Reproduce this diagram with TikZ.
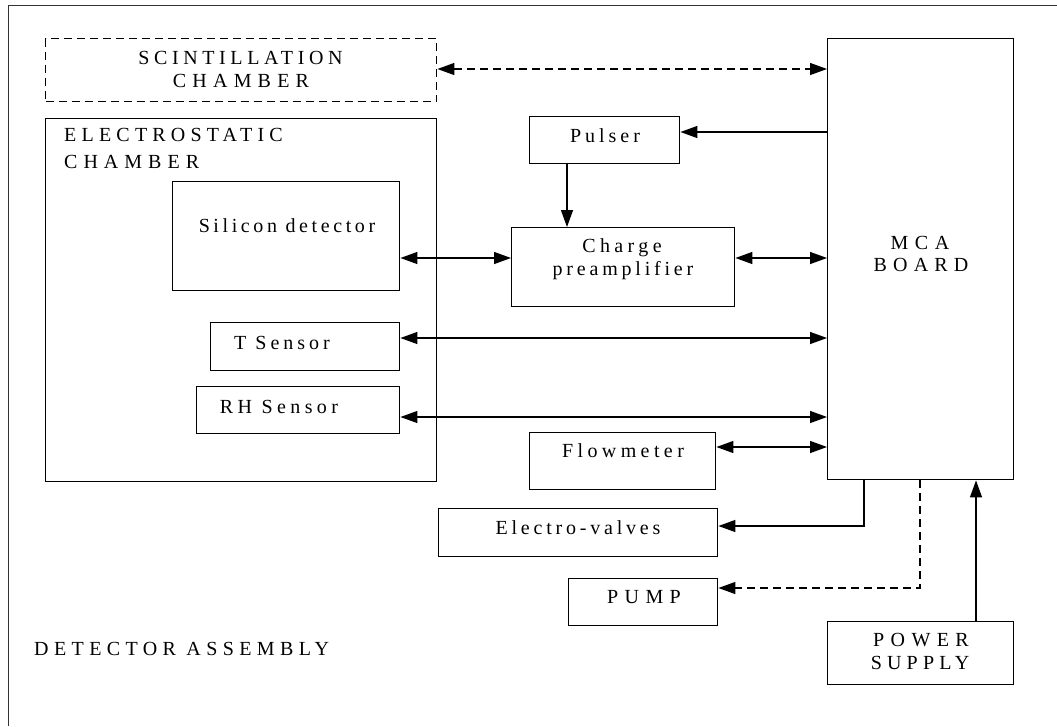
\documentclass[tikz,border=0pt]{standalone}
\usepackage{fontspec}
\setmainfont{Liberation Serif}
\usetikzlibrary{arrows.meta}
\newcommand{\lsp}[2]{{\addfontfeature{LetterSpace=#1}#2}}
\begin{document}
\begin{tikzpicture}[x=1pt,y=-1pt,
  box/.style={draw, line width=1.4pt, inner sep=0pt, anchor=north west},
  txt/.style={inner sep=0pt, font=\fontsize{20}{24}\selectfont, anchor=base},
  ltxt/.style={inner sep=0pt, font=\fontsize{20}{24}\selectfont, anchor=base west},
  con/.style={line width=1.3pt},
  dsh/.style={dash pattern=on 8pt off 5pt},
  tip/.style={-{Triangle[length=17pt,width=12pt]}},
  dtip/.style={{Triangle[length=17pt,width=12pt]}-{Triangle[length=17pt,width=12pt]}}
]
\useasboundingbox (0,0) rectangle (1057,726);
\draw[line width=1.3pt, black!80] (8.5,726) -- (8.5,5.5) -- (1057,5.5);

% boxes
\node[box, dsh, minimum width=391pt, minimum height=63pt] (scint) at (45,38) {};
\node[box, minimum width=391pt, minimum height=363pt] (elec) at (45,118) {};
\node[box, minimum width=227pt, minimum height=109pt] (silicon) at (172,181) {};
\node[box, minimum width=189pt, minimum height=48pt] (tsens) at (210,322) {};
\node[box, minimum width=203pt, minimum height=47pt] (rhsens) at (196,386) {};
\node[box, minimum width=150pt, minimum height=47pt] (pulser) at (529,116) {};
\node[box, minimum width=223pt, minimum height=79pt] (charge) at (511,227) {};
\node[box, minimum width=186pt, minimum height=441pt] (mca) at (827,38) {};
\node[box, minimum width=186pt, minimum height=57pt] (flow) at (529,432) {};
\node[box, minimum width=279pt, minimum height=48pt] (valves) at (438,508) {};
\node[box, minimum width=149pt, minimum height=47pt] (pump) at (568,578) {};
\node[box, minimum width=186pt, minimum height=63pt] (power) at (827,621) {};

% texts
\node[txt] (t1) at (240.5,64) {\lsp{23}{SCINTILLATION}};
\node[txt] (t2) at (241,87) {\lsp{31}{CHAMBER}};
\node[ltxt] (t3) at (64,141) {\lsp{26}{ELECTROSTATIC}};
\node[ltxt] (t4) at (64,168) {\lsp{30}{CHAMBER}};
\node[txt] (t5) at (287,232) {\lsp{18}{Silicon detector}};
\node[txt] (t6) at (282,349) {\lsp{20}{T Sensor}};
\node[txt] (t7) at (279,413) {\lsp{22}{RH Sensor}};
\node[txt] (t8) at (605,142) {\lsp{20}{Pulser}};
\node[txt] (t9) at (622,252) {\lsp{22}{Charge}};
\node[txt] (t10) at (623,275) {\lsp{19}{preamplifier}};
\node[txt] (t11) at (920,249) {\lsp{33}{MCA}};
\node[txt] (t12) at (921,271) {\lsp{31}{BOARD}};
\node[txt] (t13) at (623,457) {\lsp{22}{Flowmeter}};
\node[txt] (t14) at (578,534) {\lsp{19}{Electro-valves}};
\node[txt] (t15) at (644,603) {\lsp{32}{PUMP}};
\node[txt] (t16) at (921,646) {\lsp{32}{POWER}};
\node[txt] (t17) at (920,669) {\lsp{26}{SUPPLY}};
\node[ltxt] (t18) at (34,655) {\lsp{27}{DETECTOR ASSEMBLY}};

% connectors
\draw[con, dsh, dtip] (scint.east |- 0,69) -- (mca.west |- 0,69);
\draw[con, tip] (mca.west |- 0,132) -- (pulser.east |- 0,132);
\draw[con, tip] (pulser.south -| 567,0) -- (charge.north -| 567,0);
\draw[con, dtip] (silicon.east |- 0,258) -- (charge.west |- 0,258);
\draw[con, dtip] (charge.east |- 0,258) -- (mca.west |- 0,258);
\draw[con, dtip] (tsens.east |- 0,338) -- (mca.west |- 0,338);
\draw[con, dtip] (rhsens.east |- 0,417) -- (mca.west |- 0,417);
\draw[con, dtip] (flow.east |- 0,447) -- (mca.west |- 0,447);
\draw[con, tip] (mca.south -| 864,0) |- (valves.east |- 0,526);
\draw[con, dsh, tip] (mca.south -| 920,0) |- (pump.east |- 0,588);
\draw[con, tip] (power.north -| 976,0) -- (mca.south -| 976,0);
\end{tikzpicture}
\end{document}
